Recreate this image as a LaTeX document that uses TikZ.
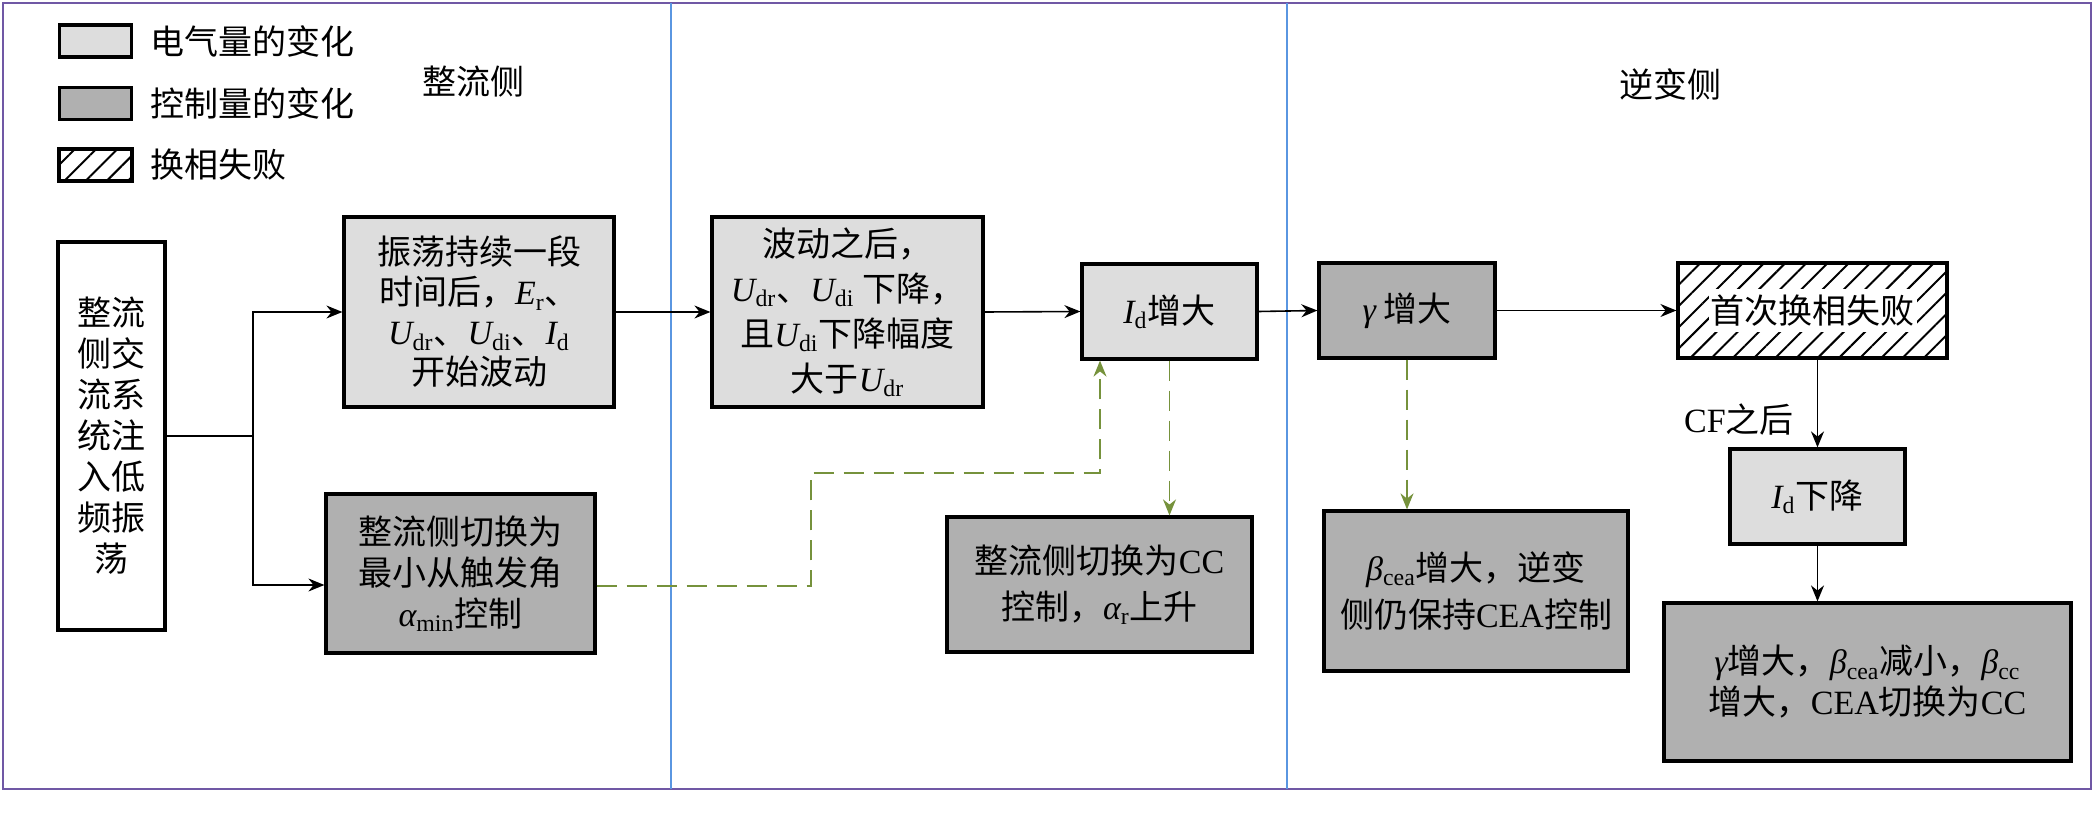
\documentclass[tikz,border=0pt]{standalone}
\usepackage{fontspec}
\setmainfont{Noto Sans CJK SC}
\newfontfamily\lat{Liberation Serif}
\usetikzlibrary{arrows.meta,patterns.meta}
\definecolor{lgray}{RGB}{221,221,221}
\definecolor{dgray}{RGB}{176,176,176}
\definecolor{gline}{RGB}{118,146,60}
\definecolor{framec}{RGB}{112,88,165}
\definecolor{blin}{RGB}{90,150,225}
\newcommand{\iv}[2]{{\lat\itshape #1}\textsubscript{\lat #2}}
\newcommand{\gk}[1]{{\lat\itshape #1}}
\newcommand{\la}[1]{{\lat #1}}
\newcommand{\fs}[1]{\fontsize{17}{#1}\selectfont}
\begin{document}
\begin{tikzpicture}[x=0.5pt,y=-0.5pt,
  every node/.style={font=\fs{20.5}, inner sep=0pt},
  box/.style={draw=black, line width=1.6pt, align=center},
  ebox/.style={box, fill=lgray},
  cbox/.style={box, fill=dgray},
  hbox/.style={box, fill=white, pattern={Lines[angle=45,distance=7.5pt,line width=1pt]}},
  arr/.style={line width=0.8pt, -{Stealth[length=8pt,width=6.5pt]}},
  garr/.style={draw=gline, line width=0.9pt, dash pattern=on 10pt off 5pt, -{Stealth[length=8pt,width=6.5pt]}},
]
\useasboundingbox (0,0) rectangle (2095,818);
\fill[white] (0,0) rectangle (2095,818);
% frame and separators
\draw[framec, line width=1.2pt] (3,3) rectangle (2091,789);
\draw[blin, line width=0.6pt] (671,3) -- (671,789);
\draw[blin, line width=0.6pt] (1287,3) -- (1287,789);

% legend
\node[ebox, minimum width=36pt, minimum height=16pt] (lg1) at (95.5,41) {};
\node[cbox, minimum width=36pt, minimum height=16pt] (lg2) at (95.5,103.5) {};
\draw[line width=1.6pt, fill=white] (59,149) rectangle (132,181);
\node[hbox, minimum width=36pt, minimum height=16pt] (lg3) at (95.5,165) {};
\node[anchor=west] (lt1) at (150,41) {电气量的变化};
\node[anchor=west] (lt2) at (150,103.5) {控制量的变化};
\node[anchor=west] (lt3) at (150,165) {换相失败};

% side labels
\node (zl) at (473,82) {整流侧};
\node (nb) at (1670,84) {逆变侧};

% boxes
\node[box, fill=white, minimum width=53.5pt, minimum height=194pt] (L) at (111.5,436)
  {整流\\侧交\\流系\\统注\\入低\\频振\\荡};
\node[ebox, minimum width=135pt, minimum height=95pt, font=\fs{20}] (A) at (479,312)
  {振荡持续一段\\时间后，\iv{E}{r}、\\\iv{U}{dr}、\iv{U}{di}、\iv{I}{d}\\开始波动};
\node[cbox, minimum width=134.5pt, minimum height=79.5pt, font=\fs{20.5}] (B) at (460.5,573.5)
  {整流侧切换为\\最小从触发角\\\iv{α}{min}控制};
\node[ebox, minimum width=135.5pt, minimum height=95pt, font=\fs{22.5}] (C) at (847.5,312)
  {波动之后，\\\iv{U}{dr}、\iv{U}{di} 下降，\\且\iv{U}{di}下降幅度\\大于\iv{U}{dr}};
\node[ebox, minimum width=87.5pt, minimum height=47.5pt] (D) at (1169.5,311.5)
  {\iv{I}{d}增大};
\node[cbox, minimum width=152.5pt, minimum height=67.5pt, font=\fs{23}] (E) at (1099.5,584.5)
  {整流侧切换为\la{CC}\\控制，\iv{α}{r}上升};
\node[cbox, minimum width=88pt, minimum height=47.5pt] (F) at (1407,310.5)
  {\gk{γ} 增大};
\node[hbox, minimum width=134.5pt, minimum height=47.5pt] (G) at (1812.5,310.5)
  {\colorbox{white}{\kern-2pt 首次换相失败\kern-2pt}};
\node[cbox, minimum width=152pt, minimum height=80pt, font=\fs{23.5}] (H) at (1476,591)
  {\iv{β}{cea}增大，逆变\\侧仍保持\la{CEA}控制};
\node[ebox, minimum width=87.5pt, minimum height=47.5pt] (I) at (1817.5,496.5)
  {\iv{I}{d}下降};
\node[cbox, minimum width=203.5pt, minimum height=79pt, font=\fs{20.5}] (J) at (1867.5,682)
  {\gk{γ}增大，\iv{β}{cea}减小，\iv{β}{cc}\\增大，\la{CEA}切换为\la{CC}};
\node (cf) at (1739,420) {\la{CF}之后};

% connectors
\coordinate (j1) at (253,436);
\draw[line width=0.8pt] (L.east) -- (j1);
\draw[arr] (j1) |- (A.west);
\draw[arr] (j1) |- ([yshift=-5.75pt]B.west);
\draw[arr] (A.east) -- (C.west);
\draw[arr] (C.east) -- (D.west);
\draw[arr] (D.east) -- (F.west);
\draw[arr] (F.east) -- (G.west);
\draw[arr] (I.north |- G.south) -- (I.north);
\draw[arr] (I.south) -- (I.south |- J.north);

\coordinate (g1) at (811,473);
\draw[garr] ([yshift=-6.25pt]B.east) -| (g1) -| ([xshift=-34.75pt]D.south);
\draw[garr] (D.south) -- (D.south |- E.north);
\draw[garr] (F.south) -- (F.south |- H.north);
\end{tikzpicture}
\end{document}
